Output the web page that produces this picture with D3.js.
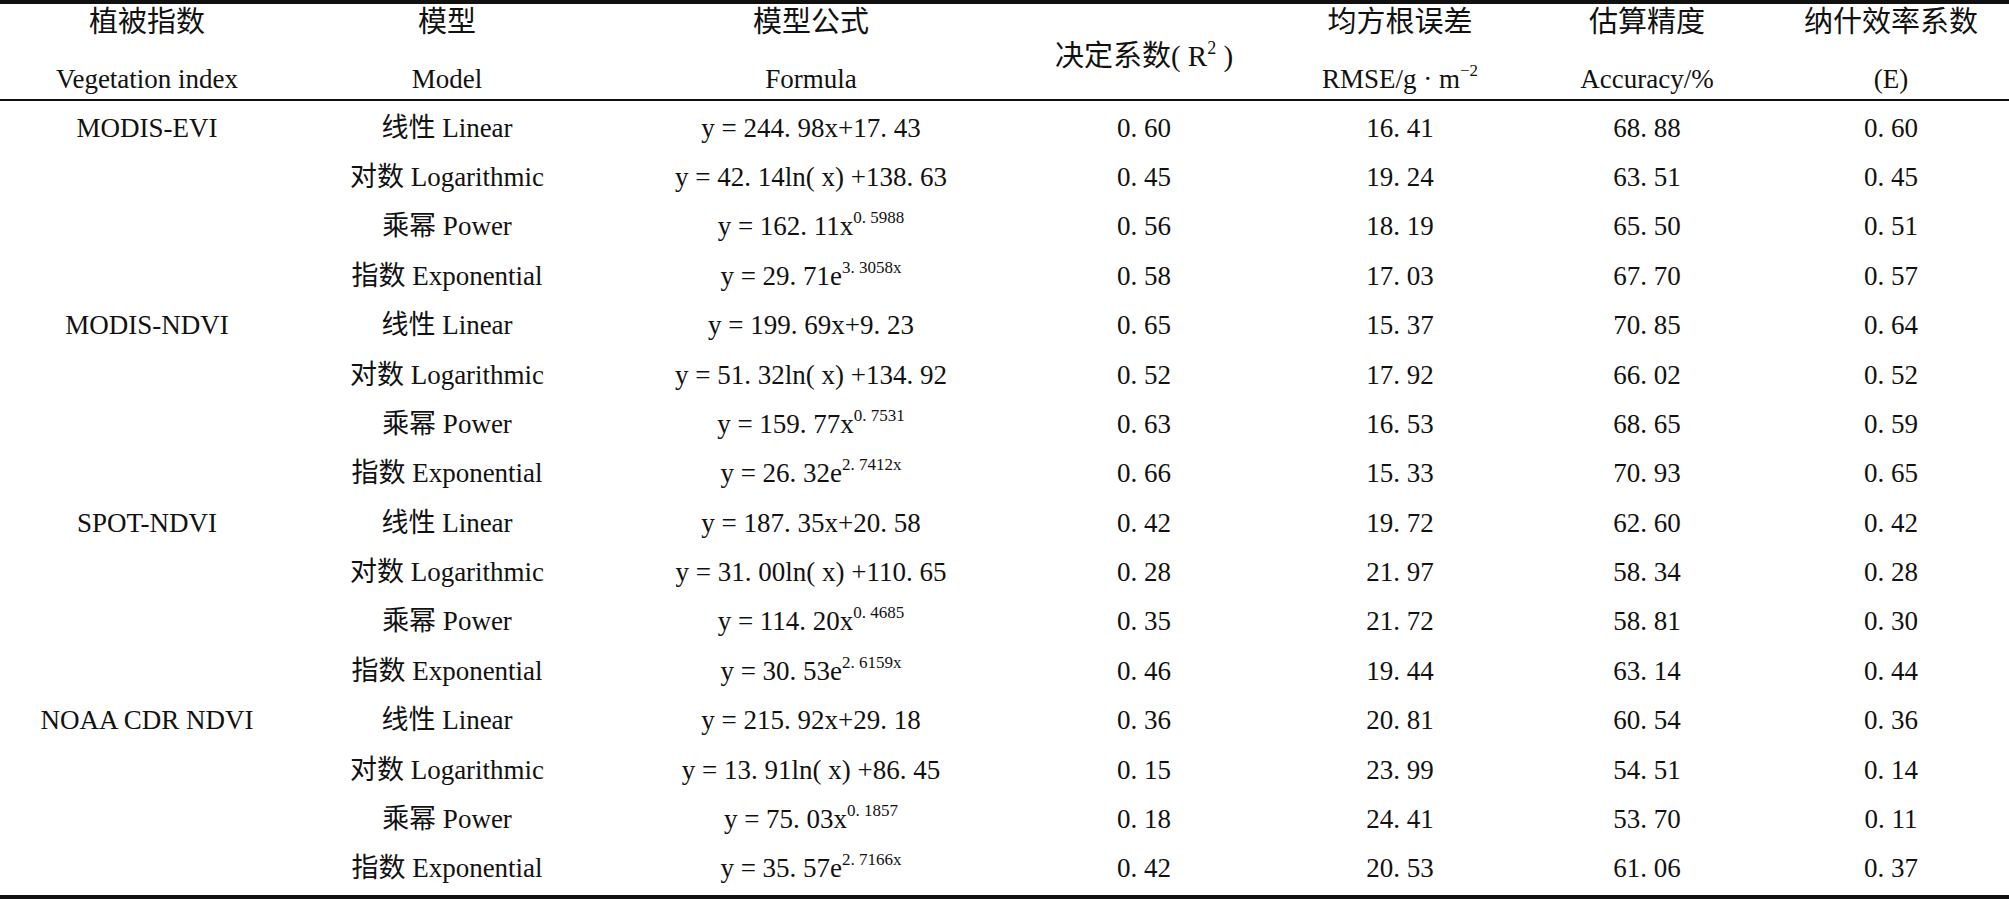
<!DOCTYPE html>
<html><head><meta charset="utf-8">
<script src="https://cdn.jsdelivr.net/npm/d3@7"></script>
<style>body{margin:0;background:#fff}</style></head>
<body><svg id="c" width="2009" height="899"></svg>
<script>
const headers1 = ["植被指数","模型","模型公式","","均方根误差","估算精度","纳什效率系数"];
const headers2 = ["Vegetation index","Model","Formula","","RMSE/g · m","Accuracy/%","(E)"];
const indices = ["MODIS-EVI","","","","MODIS-NDVI","","","","SPOT-NDVI","","","","NOAA CDR NDVI","","",""];
const models = ["线性 Linear","对数 Logarithmic","乘幂 Power","指数 Exponential"];
const formulaBase = ["y = 244. 98x+17. 43","y = 42. 14ln( x) +138. 63","y = 162. 11x","y = 29. 71e",
 "y = 199. 69x+9. 23","y = 51. 32ln( x) +134. 92","y = 159. 77x","y = 26. 32e",
 "y = 187. 35x+20. 58","y = 31. 00ln( x) +110. 65","y = 114. 20x","y = 30. 53e",
 "y = 215. 92x+29. 18","y = 13. 91ln( x) +86. 45","y = 75. 03x","y = 35. 57e"];
const formulaSup = ["","","0. 5988","3. 3058x","","","0. 7531","2. 7412x","","","0. 4685","2. 6159x","","","0. 1857","2. 7166x"];
const r2 = ["0. 60","0. 45","0. 56","0. 58","0. 65","0. 52","0. 63","0. 66","0. 42","0. 28","0. 35","0. 46","0. 36","0. 15","0. 18","0. 42"];
const rmse = ["16. 41","19. 24","18. 19","17. 03","15. 37","17. 92","16. 53","15. 33","19. 72","21. 97","21. 72","19. 44","20. 81","23. 99","24. 41","20. 53"];
const acc = ["68. 88","63. 51","65. 50","67. 70","70. 85","66. 02","68. 65","70. 93","62. 60","58. 34","58. 81","63. 14","60. 54","54. 51","53. 70","61. 06"];
const nse = ["0. 60","0. 45","0. 51","0. 57","0. 64","0. 52","0. 59","0. 65","0. 42","0. 28","0. 30","0. 44","0. 36","0. 14","0. 11","0. 37"];

const svg = d3.select("#c");
const font = "'Liberation Serif','Noto Sans CJK SC',serif";
const colX = d3.scalePoint().domain(d3.range(7)).range([147,1891]);
const colCenters = [147,447,811,1144,1400,1647,1891];
const x = i => colCenters[i];
const rowY = d3.scaleBand().domain(d3.range(16)).range([103,893]);
const fs = 27;

svg.append("rect").attr("x",0).attr("y",0).attr("width",2009).attr("height",4).attr("fill","#111");
svg.append("rect").attr("x",0).attr("y",99).attr("width",2009).attr("height",2).attr("fill","#111");
svg.append("rect").attr("x",0).attr("y",895).attr("width",2009).attr("height",4).attr("fill","#111");

const T = (xx,yy,txt,size)=>svg.append("text").attr("x",xx).attr("y",yy).attr("text-anchor","middle")
  .attr("font-family",font).attr("font-size",size||fs).attr("fill","#111").text(txt);

headers1.forEach((h,i)=>{ if(h) T(x(i),32,h,29); });
headers2.forEach((h,i)=>{ if(!h) return;
  const t=T(x(i),88,h);
  if(i===4) t.append("tspan").attr("dy",-12).attr("font-size",17).text("−2");
});
const r2h=T(x(3),66,"决定系数( R",29);
r2h.append("tspan").attr("dy",-12).attr("font-size",18).text("2");
r2h.append("tspan").attr("dy",12).text(" )");

d3.range(16).forEach(r=>{
  const y = rowY(r)+rowY.bandwidth()/2+9;
  if(indices[r]) T(x(0),y,indices[r]);
  T(x(1),y,models[r%4]);
  const f=T(x(2),y,formulaBase[r]);
  if(formulaSup[r]) f.append("tspan").attr("dy",-12).attr("font-size",17).text(formulaSup[r]);
  T(x(3),y,r2[r]); T(x(4),y,rmse[r]); T(x(5),y,acc[r]); T(x(6),y,nse[r]);
});
</script></body></html>
